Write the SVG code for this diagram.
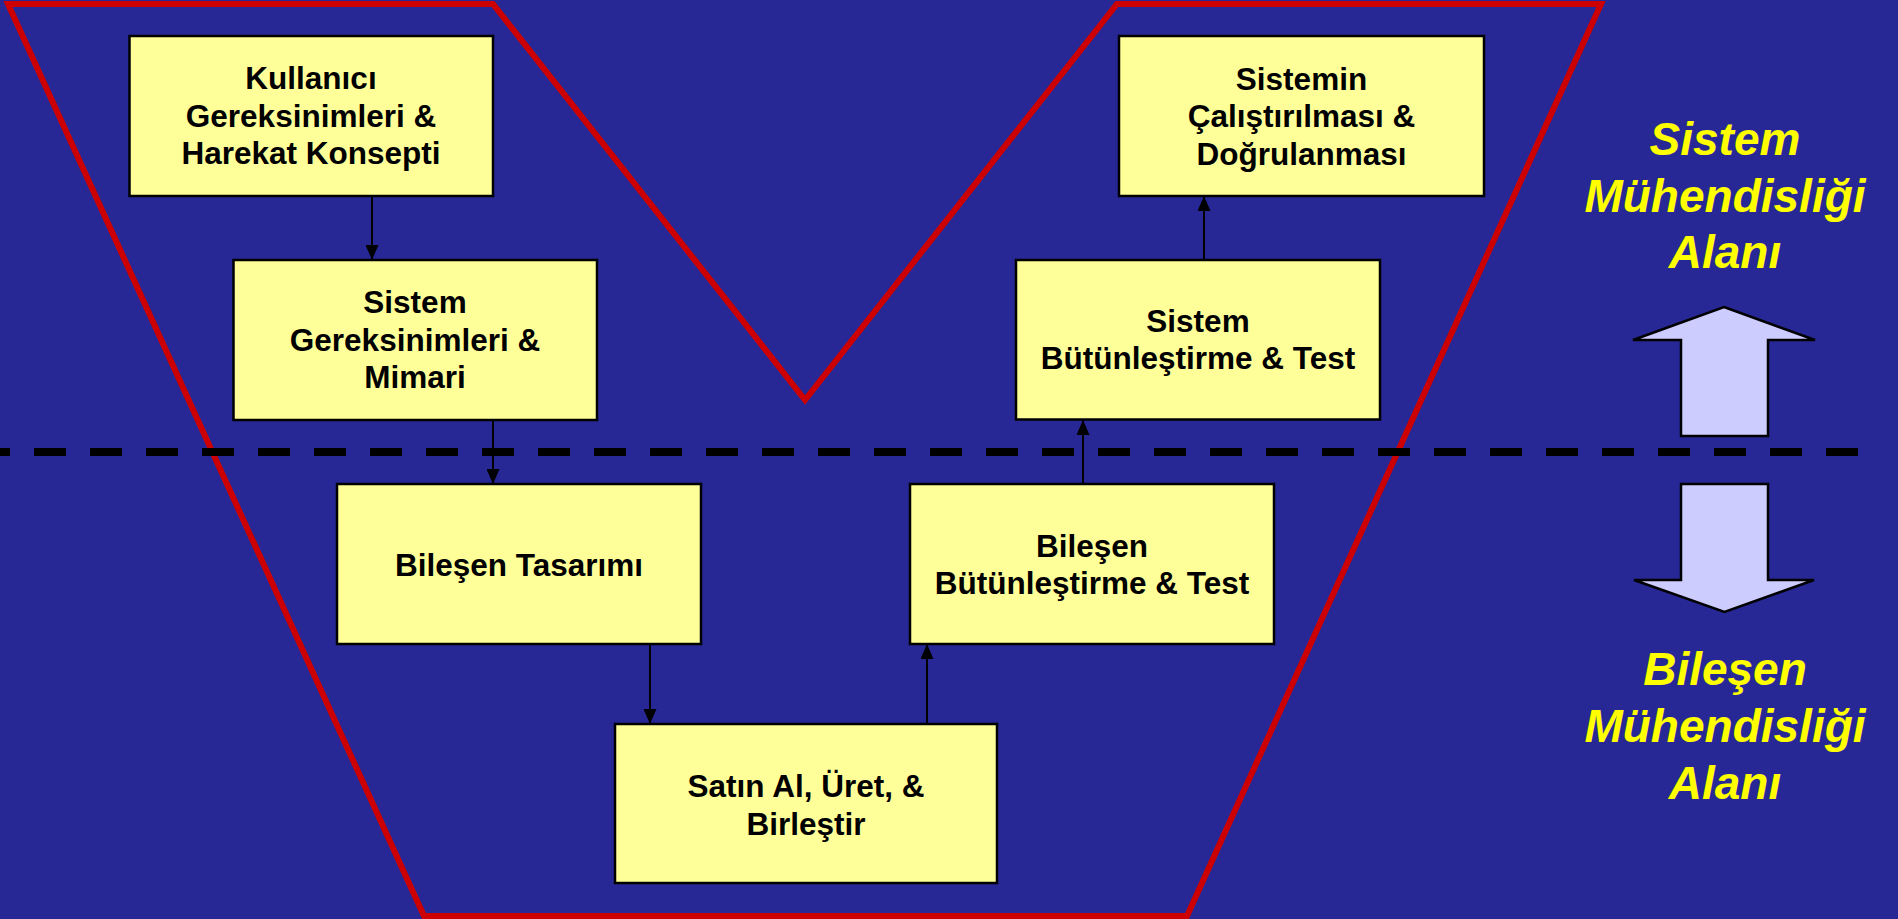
<svg xmlns="http://www.w3.org/2000/svg" width="1898" height="919" viewBox="0 0 1898 919">
  <style>
    .box { fill: #FFFF99; stroke: #000000; stroke-width: 2.5; }
    .lbl { font-family: "Liberation Sans", Arial, sans-serif; font-weight: bold; font-size: 31.5px; fill: #000000; text-anchor: middle; }
    .area { font-family: "Liberation Sans", Arial, sans-serif; font-weight: bold; font-style: italic; font-size: 46px; fill: #FFFF00; text-anchor: middle; }
    .conn { stroke: #000000; stroke-width: 2; fill: none; marker-end: url(#head); }
    .bigarrow { fill: #CCCCFF; stroke: #000000; stroke-width: 2.5; stroke-linejoin: miter; }
  </style>
  <defs>
    <marker id="head" viewBox="0 0 15 13" refX="15" refY="6.5" markerWidth="15" markerHeight="13" markerUnits="userSpaceOnUse" orient="auto">
      <path d="M0,0 L15,6.5 L0,13 z" fill="#000000"/>
    </marker>
  </defs>

  <!-- background -->
  <rect x="0" y="0" width="1898" height="919" fill="#272896"/>

  <!-- V outline -->
  <polygon id="v-outline" points="8,4 493,4 805,400 1117,4 1601,4 1187,916 424,916" fill="none" stroke="#CC0000" stroke-width="6" stroke-linejoin="miter"/>

  <!-- boundary between system and component levels -->
  <line id="boundary" x1="-22" y1="452" x2="1858" y2="452" stroke="#000000" stroke-width="8" stroke-dasharray="32 24"/>

  <!-- connectors -->
  <g id="connectors">
    <line class="conn" x1="372" y1="196" x2="372" y2="260"/>
    <line class="conn" x1="493" y1="420" x2="493" y2="484"/>
    <line class="conn" x1="650" y1="644" x2="650" y2="724"/>
    <line class="conn" x1="927" y1="724" x2="927" y2="644"/>
    <line class="conn" x1="1083" y1="484" x2="1083" y2="420"/>
    <line class="conn" x1="1204" y1="260" x2="1204" y2="196"/>
  </g>

  <g id="kullanici">
    <rect class="box" x="129.5" y="36" width="363.5" height="160"/>
    <text class="lbl" x="311" y="89">Kullanıcı</text>
    <text class="lbl" x="311" y="126.5">Gereksinimleri &amp;</text>
    <text class="lbl" x="311" y="164">Harekat Konsepti</text>
  </g>

  <g id="sistem-gereksinimleri">
    <rect class="box" x="233.5" y="260" width="363.5" height="160"/>
    <text class="lbl" x="415" y="313">Sistem</text>
    <text class="lbl" x="415" y="350.5">Gereksinimleri &amp;</text>
    <text class="lbl" x="415" y="388">Mimari</text>
  </g>

  <g id="bilesen-tasarimi">
    <rect class="box" x="337" y="484" width="364" height="160"/>
    <text class="lbl" x="519" y="575.5">Bileşen Tasarımı</text>
  </g>

  <g id="satin-al">
    <rect class="box" x="615" y="724" width="382" height="159"/>
    <text class="lbl" x="806" y="797">Satın Al, Üret, &amp;</text>
    <text class="lbl" x="806" y="835">Birleştir</text>
  </g>

  <g id="bilesen-butunlestirme">
    <rect class="box" x="910" y="484" width="364" height="160"/>
    <text class="lbl" x="1092" y="557">Bileşen</text>
    <text class="lbl" x="1092" y="594">Bütünleştirme &amp; Test</text>
  </g>

  <g id="sistem-butunlestirme">
    <rect class="box" x="1016" y="260" width="364" height="159.5"/>
    <text class="lbl" x="1198" y="332">Sistem</text>
    <text class="lbl" x="1198" y="369">Bütünleştirme &amp; Test</text>
  </g>

  <g id="sistemin-calistirilmasi">
    <rect class="box" x="1119" y="36" width="365" height="160"/>
    <text class="lbl" x="1301.5" y="90">Sistemin</text>
    <text class="lbl" x="1301.5" y="127">Çalıştırılması &amp;</text>
    <text class="lbl" x="1301.5" y="165">Doğrulanması</text>
  </g>

  <!-- domain labels and direction arrows -->
  <g id="sistem-alani">
    <text class="area" x="1725" y="155">Sistem</text>
    <text class="area" x="1725" y="212">Mühendisliği</text>
    <text class="area" x="1725" y="268">Alanı</text>
  </g>
  <path id="arrow-up" class="bigarrow" d="M1724,307 L1815,340 L1768,340 L1768,436 L1681,436 L1681,340 L1633,340 Z"/>
  <path id="arrow-down" class="bigarrow" d="M1681,484 L1768,484 L1768,580 L1814,580 L1724.5,612 L1634,580 L1681,580 Z"/>
  <g id="bilesen-alani">
    <text class="area" x="1725" y="685">Bileşen</text>
    <text class="area" x="1725" y="742">Mühendisliği</text>
    <text class="area" x="1725" y="799">Alanı</text>
  </g>
</svg>
